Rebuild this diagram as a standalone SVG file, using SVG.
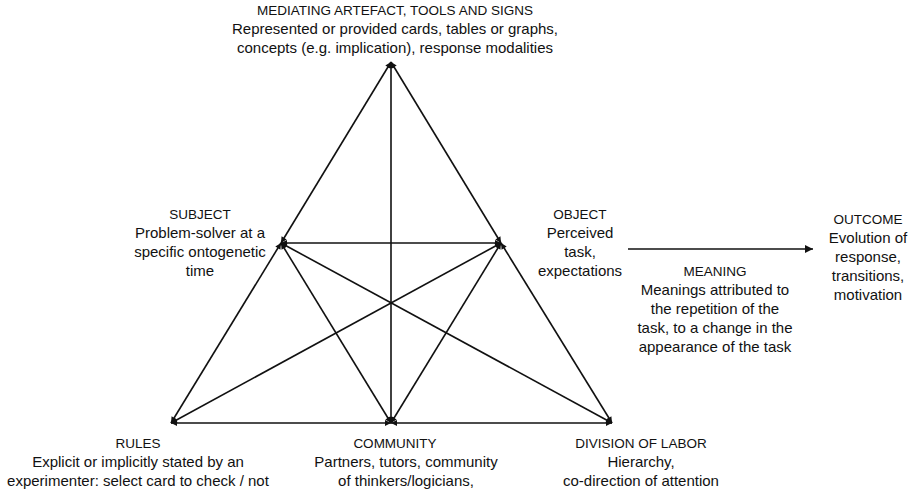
<svg xmlns="http://www.w3.org/2000/svg" width="915" height="495" viewBox="0 0 915 495">
<style>
text{font-family:"Liberation Sans",Arial,sans-serif;fill:#111;text-anchor:middle}
.h{font-size:13.5px}
.b{font-size:15px}
.e{stroke:#111;stroke-width:1.6;fill:none;marker-start:url(#ah);marker-end:url(#ah)}
.o{stroke:#111;stroke-width:1.6;fill:none;marker-end:url(#big)}
</style>
<defs>
<marker id="ah" viewBox="0 0 10 10" refX="10" refY="5" markerWidth="7" markerHeight="6" markerUnits="userSpaceOnUse" orient="auto-start-reverse">
<path d="M0,0 L10,5 L0,10 z" fill="#111"/>
</marker>
<marker id="big" viewBox="0 0 10 10" refX="10" refY="5" markerWidth="10" markerHeight="8" markerUnits="userSpaceOnUse" orient="auto">
<path d="M0,0 L10,5 L0,10 z" fill="#111"/>
</marker>
</defs>
<g id="connectors">
<line class="e" x1="391" y1="62" x2="281" y2="243"/>
<line class="e" x1="281" y1="243" x2="171" y2="423"/>
<line class="e" x1="391" y1="62" x2="501" y2="243"/>
<line class="e" x1="501" y1="243" x2="612" y2="423"/>
<line class="e" x1="171" y1="423" x2="391" y2="423"/>
<line class="e" x1="391" y1="423" x2="612" y2="423"/>
<line class="e" x1="281" y1="243" x2="501" y2="243"/>
<line class="e" x1="391" y1="62" x2="391" y2="423"/>
<line class="e" x1="281" y1="243" x2="391" y2="423"/>
<line class="e" x1="281" y1="243" x2="612" y2="423"/>
<line class="e" x1="501" y1="243" x2="391" y2="423"/>
<line class="e" x1="501" y1="243" x2="171" y2="423"/>
<line class="o" x1="628" y1="249" x2="813" y2="249"/>
</g>
<g id="artefact">
<text class="h" x="395" y="15">MEDIATING ARTEFACT, TOOLS AND SIGNS</text>
<text class="b" x="395" y="34">Represented or provided cards, tables or graphs,</text>
<text class="b" x="395" y="53">concepts (e.g. implication), response modalities</text>
</g>
<g id="subject">
<text class="h" x="200" y="219">SUBJECT</text>
<text class="b" x="200" y="238">Problem-solver at a</text>
<text class="b" x="200" y="257">specific ontogenetic</text>
<text class="b" x="200" y="276">time</text>
</g>
<g id="object">
<text class="h" x="580" y="219">OBJECT</text>
<text class="b" x="580" y="238">Perceived</text>
<text class="b" x="580" y="257">task,</text>
<text class="b" x="580" y="276">expectations</text>
</g>
<g id="meaning">
<text class="h" x="715" y="276">MEANING</text>
<text class="b" x="715" y="295">Meanings attributed to</text>
<text class="b" x="715" y="314">the repetition of the</text>
<text class="b" x="715" y="333">task, to a change in the</text>
<text class="b" x="715" y="352">appearance of the task</text>
</g>
<g id="outcome">
<text class="h" x="868" y="224">OUTCOME</text>
<text class="b" x="868" y="243">Evolution of</text>
<text class="b" x="868" y="262">response,</text>
<text class="b" x="868" y="281">transitions,</text>
<text class="b" x="868" y="300">motivation</text>
</g>
<g id="rules">
<text class="h" x="138" y="448">RULES</text>
<text class="b" x="138" y="467">Explicit or implicitly stated by an</text>
<text class="b" x="138" y="486">experimenter: select card to check / not</text>
</g>
<g id="community">
<text class="h" x="395" y="448">COMMUNITY</text>
<text class="b" x="406" y="467">Partners, tutors, community</text>
<text class="b" x="406" y="486">of thinkers/logicians,</text>
</g>
<g id="division">
<text class="h" x="641" y="448">DIVISION OF LABOR</text>
<text class="b" x="641" y="467">Hierarchy,</text>
<text class="b" x="641" y="486">co-direction of attention</text>
</g>
</svg>
